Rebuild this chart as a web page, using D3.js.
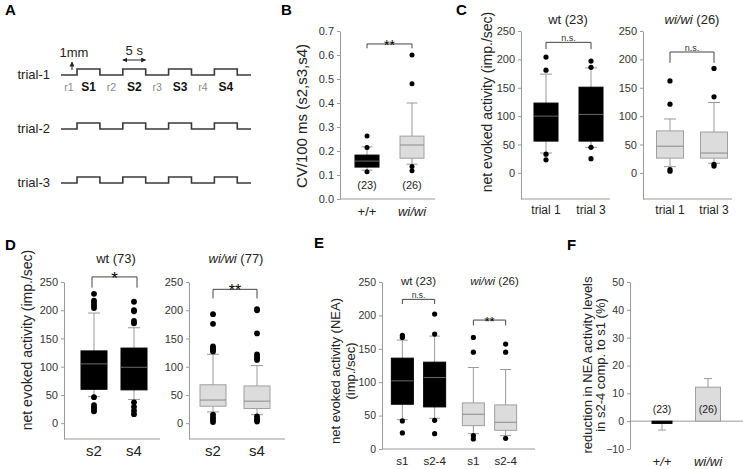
<!doctype html>
<html lang="en">
<head>
<meta charset="utf-8">
<title>net evoked activity - wt vs wi/wi</title>
<style>
html, body {
	margin: 0;
	padding: 0;
	background: #fff;
	overflow: hidden;
}
svg {
	display: block;
	font-family: 'Liberation Sans', Arial, Helvetica, sans-serif;
}
</style>
</head>
<body>
<div id="container"></div>
<script src="https://cdnjs.cloudflare.com/ajax/libs/d3/7.8.5/d3.min.js"></script>
<script>
/* DATA */

// A: stimulation protocol (seconds)
var trials = ['trial-1', 'trial-2', 'trial-3'];
var stimOnsets = [3.5, 13.5, 23.5, 33.5];
var stimDuration = 5;
var protocolLength = 41.5;
var stimLabels = ['S1', 'S2', 'S3', 'S4'];
var restLabels = ['r1', 'r2', 'r3', 'r4'];

// B: CV/100 ms, boxes are [low whisker, q1, median, q3, high whisker]
var cvGroups = ['+/+', 'wi/wi'];
var cvCounts = ['(23)', '(26)'];
var cvBoxes = [[0.12, 0.133, 0.158, 0.183, 0.217], [0.145, 0.17, 0.225, 0.262, 0.40]];
var cvOutliers = [[0.262, 0.215, 0.114], [0.60, 0.48, 0.135, 0.118]];

// C: trial 1 vs trial 3
var trialCats = ['trial 1', 'trial 3'];
var wtTrialBoxes = [[35, 56, 100, 123, 174], [45, 56, 103, 151, 185]];
var wtTrialOutliers = [[204, 181, 33, 23], [197, 186, 45, 25]];
var wiTrialBoxes = [[11, 26, 47, 74, 95], [17, 26, 35, 72, 124]];
var wiTrialOutliers = [[162, 121, 6, 3], [184, 134, 15, 12]];

// D: s2 vs s4
var stimCats = ['s2', 's4'];
var wtStimBoxes = [[47, 60, 105, 128, 195], [42, 59, 99, 133, 169]];
var wtStimOutliers = [[229, 217, 213, 208, 204, 46, 32, 28, 25, 21], [215, 200, 198, 181, 177, 37, 29, 22, 16]];
var wiStimBoxes = [[20, 30, 41, 68, 122], [15, 26, 39, 66, 102]];
var wiStimOutliers = [[193, 176, 136, 133, 130, 127, 15, 10, 6, 2], [202, 200, 159, 122, 118, 115, 112, 12, 8, 5, 3]];

// E: NEA s1 vs s2-4
var neaGroups = ['wt', 'wi/wi'];
var neaCounts = ['(23)', '(26)'];
var neaCats = ['s1', 's2-4'];
var wtNeaBoxes = [[44, 67, 102, 136, 163], [46, 63, 107, 130, 169]];
var wtNeaOutliers = [[170, 167, 42, 24], [202, 172, 43, 23]];
var wiNeaBoxes = [[23, 35, 52, 69, 122], [20, 28, 40, 66, 119]];
var wiNeaOutliers = [[167, 145, 20, 15], [157, 145, 16]];

// F: reduction in NEA (%)
var redGroups = ['+/+', 'wi/wi'];
var redCounts = ['(23)', '(26)'];
var redMeans = [-0.8, 12.2];
var redErrors = [2.4, 3.1];


/* SETUP */

var W = 743, H = 469;
var FONT = "'Liberation Sans', Arial, Helvetica, sans-serif";
var AXIS = '#9a9a9a';
var INK = '#222';

var svg = d3.select('#container').append('svg')
	.attr('width', W)
	.attr('height', H);

var txt = function (x, y, s, size, anchor) {
	return svg.append('text')
		.attr('x', x).attr('y', y)
		.attr('font-size', size)
		.attr('text-anchor', anchor || 'middle')
		.attr('fill', INK)
		.text(s);
};

// text where "wi/wi" is italic
var genoText = function (x, y, s, size, anchor) {
	var t = txt(x, y, '', size, anchor);
	s.split(/(wi\/wi)/).forEach(function (part) {
		if (!part) return;
		t.append('tspan')
			.attr('font-style', part === 'wi/wi' ? 'italic' : null)
			.text(part);
	});
	return t;
};

var panelLetter = function (s, x, y) {
	txt(x, y, s, 15, 'start').attr('font-weight', 'bold').attr('fill', '#000');
};

var yTitle = function (lines, cx, cy, size, gap) {
	var g = svg.append('g').attr('transform', 'translate(' + cx + ',' + cy + ') rotate(-90)');
	lines.forEach(function (l, i) {
		g.append('text')
			.attr('x', 0)
			.attr('y', (i - (lines.length - 1) / 2) * gap + size * 0.35)
			.attr('text-anchor', 'middle')
			.attr('font-size', size)
			.attr('fill', INK)
			.text(l);
	});
};

var leftAxis = function (y, x0, ticks, fmt) {
	var g = svg.append('g')
		.attr('transform', 'translate(' + x0 + ',0)')
		.call(d3.axisLeft(y).tickValues(ticks).tickSize(3).tickSizeOuter(0).tickPadding(3)
			.tickFormat(fmt || d3.format('d')));
	g.attr('font-family', FONT).attr('font-size', 11);
	g.selectAll('path, line').attr('stroke', AXIS);
	g.selectAll('text').attr('fill', '#333');
	return g;
};

var baseLine = function (x0, x1, y0) {
	svg.append('line')
		.attr('x1', x0).attr('x2', x1)
		.attr('y1', y0).attr('y2', y0)
		.attr('stroke', AXIS);
};

// o.dark: true/false for all boxes, or one flag per category
var boxplot = function (x, y, cats, boxes, outliers, o) {
	var isDark = function (i) { return Array.isArray(o.dark) ? o.dark[i] : o.dark; };
	var item = svg.append('g').selectAll('g')
		.data(cats).enter()
		.append('g')
		.attr('transform', function (d) { return 'translate(' + x(d) + ',0)'; });

	item.append('line')
		.attr('x1', 0).attr('x2', 0)
		.attr('y1', function (d, i) { return y(boxes[i][0]); })
		.attr('y2', function (d, i) { return y(boxes[i][4]); })
		.attr('stroke', '#999');
	[0, 4].forEach(function (k) {
		item.append('line')
			.attr('x1', -o.cap / 2).attr('x2', o.cap / 2)
			.attr('y1', function (d, i) { return y(boxes[i][k]); })
			.attr('y2', function (d, i) { return y(boxes[i][k]); })
			.attr('stroke', '#999');
	});
	item.append('rect')
		.attr('x', -o.width / 2)
		.attr('width', o.width)
		.attr('y', function (d, i) { return y(boxes[i][3]); })
		.attr('height', function (d, i) { return y(boxes[i][1]) - y(boxes[i][3]); })
		.attr('fill', function (d, i) { return isDark(i) ? '#000' : '#dcdcdc'; })
		.attr('stroke', function (d, i) { return isDark(i) ? '#000' : '#a0a0a0'; });
	item.append('line')
		.attr('x1', -o.width / 2).attr('x2', o.width / 2)
		.attr('y1', function (d, i) { return y(boxes[i][2]); })
		.attr('y2', function (d, i) { return y(boxes[i][2]); })
		.attr('stroke', function (d, i) { return isDark(i) ? '#6a6a6a' : '#8a8a8a'; });
	item.selectAll('circle')
		.data(function (d, i) { return outliers[i]; })
		.enter().append('circle')
		.attr('cx', 0)
		.attr('cy', function (v) { return y(v); })
		.attr('r', o.r)
		.attr('fill', '#000');
};

var bracket = function (xa, xb, yTop, yLow, label, size, stars) {
	svg.append('path')
		.attr('d', 'M' + xa + ',' + yLow + 'V' + yTop + 'H' + xb + 'V' + yLow)
		.attr('fill', 'none')
		.attr('stroke', '#444');
	txt((xa + xb) / 2, stars ? yTop + size * 0.42 : yTop - 1.5, label, size)
		.attr('fill', stars ? '#000' : '#333');
};

var catLabels = function (x, cats, y0, size, geno) {
	cats.forEach(function (c) {
		(geno ? genoText : txt)(x(c), y0, c, size);
	});
};


/* A: PROTOCOL */

panelLetter('A', 5, 15);

var tx = d3.scaleLinear().domain([0, protocolLength]).range([61, 251]);
var trialY = d3.scalePoint().domain(trials).range([75, 183]);
var amp = d3.scaleLinear().domain([0, 1]).range([0, -6]);

var wave = [[0, 0]];
stimOnsets.forEach(function (t) {
	wave.push([t, 0], [t, 1], [t + stimDuration, 1], [t + stimDuration, 0]);
});
wave.push([protocolLength, 0]);

trials.forEach(function (tr) {
	var y0 = trialY(tr);
	svg.append('path')
		.attr('d', d3.line()
			.x(function (d) { return tx(d[0]); })
			.y(function (d) { return y0 + amp(d[1]); })(wave))
		.attr('fill', 'none')
		.attr('stroke', '#3a3a3a')
		.attr('stroke-width', 1.6);
	txt(50, y0 + 4, tr, 13, 'end');
});

var y1 = trialY(trials[0]);
stimOnsets.forEach(function (t, i) {
	var restStart = i ? stimOnsets[i - 1] + stimDuration : 0;
	txt(tx(t + stimDuration / 2), y1 + 16, stimLabels[i], 12).attr('font-weight', 'bold').attr('fill', '#111');
	txt(tx((restStart + t) / 2), y1 + 16, restLabels[i], 10.5).attr('fill', '#888');
});

svg.append('defs').append('marker')
	.attr('id', 'head')
	.attr('viewBox', '0 0 10 10')
	.attr('refX', 9).attr('refY', 5)
	.attr('markerWidth', 5).attr('markerHeight', 5)
	.attr('orient', 'auto-start-reverse')
	.append('path').attr('d', 'M0,0L10,5L0,10z').attr('fill', '#222');

// 1 mm amplitude marker
svg.append('line')
	.attr('x1', tx(2.4)).attr('x2', tx(2.4))
	.attr('y1', y1 - 5).attr('y2', y1 - 13)
	.attr('stroke', '#222').attr('marker-end', 'url(#head)');
txt(tx(2.4) + 2, y1 - 18, '1mm', 13);

// 5 s duration marker
svg.append('line')
	.attr('x1', tx(stimOnsets[1])).attr('x2', tx(stimOnsets[1] + stimDuration))
	.attr('y1', y1 - 15).attr('y2', y1 - 15)
	.attr('stroke', '#222')
	.attr('marker-start', 'url(#head)')
	.attr('marker-end', 'url(#head)');
txt(tx(stimOnsets[1] + stimDuration / 2), y1 - 20, '5 s', 13);


/* B: CV */

panelLetter('B', 281, 15);

var bx = d3.scalePoint().domain(cvGroups).range([367, 412]);
var by = d3.scaleLinear().domain([0, 0.7]).range([199, 31]);
leftAxis(by, 340, d3.range(0, 0.71, 0.1), d3.format('.1f'));
baseLine(340, 435, by(0));
boxplot(bx, by, cvGroups, cvBoxes, cvOutliers, { dark: [true, false], width: 24, cap: 11, r: 2.5 });
cvGroups.forEach(function (g, i) {
	txt(bx(g), 189, cvCounts[i], 11);
});
catLabels(bx, cvGroups, 216, 13, true);
bracket(bx(cvGroups[0]), bx(cvGroups[1]), by(0.646), by(0.628), '**', 14, true);
yTitle(['CV/100 ms (s2,s3,s4)'], 302, 116, 15, 0);


/* C: TRIALS */

panelLetter('C', 456, 15);

var cy = d3.scaleLinear().domain([-46, 250]).range([199, 31]);
var cTicks = [0, 50, 100, 150, 200, 250];

var cxL = d3.scalePoint().domain(trialCats).range([546, 591]);
leftAxis(cy, 521, cTicks);
baseLine(521, 610, cy(-46));
boxplot(cxL, cy, trialCats, wtTrialBoxes, wtTrialOutliers, { dark: true, width: 24, cap: 12, r: 2.6 });
catLabels(cxL, trialCats, 214, 12);
bracket(cxL(trialCats[0]), cxL(trialCats[1]), cy(230), cy(218), 'n.s.', 9, false);
genoText(568, 24, 'wt (23)', 13);

var cxR = d3.scalePoint().domain(trialCats).range([670, 714]);
leftAxis(cy, 643, cTicks);
baseLine(643, 732, cy(-46));
boxplot(cxR, cy, trialCats, wiTrialBoxes, wiTrialOutliers, { dark: false, width: 27, cap: 12, r: 2.6 });
catLabels(cxR, trialCats, 214, 12);
bracket(cxR(trialCats[0]), cxR(trialCats[1]), cy(213), cy(194), 'n.s.', 9, false);
genoText(692, 24, 'wi/wi (26)', 13);

yTitle(['net evoked activity (imp./sec)'], 487, 102, 14, 0);


/* D: s2 vs s4 */

panelLetter('D', 5, 250);

var dy = d3.scaleLinear().domain([-28, 250]).range([439, 282]);
var dTicks = [0, 50, 100, 150, 200, 250];

var dxL = d3.scalePoint().domain(stimCats).range([94, 134]);
leftAxis(dy, 64, dTicks);
baseLine(64, 160, dy(-28));
boxplot(dxL, dy, stimCats, wtStimBoxes, wtStimOutliers, { dark: true, width: 26, cap: 12, r: 2.9 });
catLabels(dxL, stimCats, 456, 15);
bracket(dxL(stimCats[0]) - 2, dxL(stimCats[1]) + 3, dy(259), dy(240), '*', 17, true);
genoText(116, 263, 'wt (73)', 13);

var dxR = d3.scalePoint().domain(stimCats).range([213, 257]);
leftAxis(dy, 189, dTicks);
baseLine(189, 285, dy(-28));
boxplot(dxR, dy, stimCats, wiStimBoxes, wiStimOutliers, { dark: false, width: 26, cap: 12, r: 2.9 });
catLabels(dxR, stimCats, 456, 15);
bracket(dxR(stimCats[0]), dxR(stimCats[1]), dy(237), dy(221), '**', 16, true);
genoText(236, 263, 'wi/wi (77)', 13);

yTitle(['net evoked activity (imp./sec)'], 27, 340, 14, 0);


/* E: NEA */

panelLetter('E', 314, 248);

var ey = d3.scaleLinear().domain([0, 250]).range([449, 282]);
var eGroup = d3.scaleBand().domain(neaGroups).range([383, 525]);
var eInner = d3.scaleBand().domain(neaCats).range([0, eGroup.bandwidth()]).paddingOuter(0.1);
var eAt = function (g) {
	return function (c) { return eGroup(g) + eInner(c) + eInner.bandwidth() / 2; };
};
leftAxis(ey, 382, [0, 50, 100, 150, 200, 250]).attr('font-size', 10.5);
baseLine(382, 535, ey(0));
boxplot(eAt('wt'), ey, neaCats, wtNeaBoxes, wtNeaOutliers, { dark: true, width: 22, cap: 11, r: 2.6 });
boxplot(eAt('wi/wi'), ey, neaCats, wiNeaBoxes, wiNeaOutliers, { dark: false, width: 22, cap: 11, r: 2.6 });
neaGroups.forEach(function (g, i) {
	catLabels(eAt(g), neaCats, 465, 11.5);
	genoText(eGroup(g) + eGroup.bandwidth() / 2 + (i ? 5 : 0), 285, g + ' ' + neaCounts[i], 11.5);
});
bracket(eAt('wt')('s1'), eAt('wt')('s2-4'), ey(224), ey(217), 'n.s.', 8.5, false);
bracket(eAt('wi/wi')('s1'), eAt('wi/wi')('s2-4'), ey(193), ey(185), '**', 13, true);
yTitle(['net evoked activity (NEA)', '(imp./sec)'], 343, 371, 13, 15);


/* F: REDUCTION */

panelLetter('F', 567, 250);

var fy = d3.scaleLinear().domain([-10, 50]).range([449, 282]);
var fx = d3.scalePoint().domain(redGroups).range([662, 708]);
var barW = [20, 25];
leftAxis(fy, 630, d3.range(-10, 51, 10)).attr('font-size', 10.5);
baseLine(630, 743, fy(0));

redGroups.forEach(function (g, i) {
	var m = redMeans[i], e = redErrors[i];
	var tip = m + (m < 0 ? -e : e);
	svg.append('line')
		.attr('x1', fx(g)).attr('x2', fx(g))
		.attr('y1', fy(m)).attr('y2', fy(tip))
		.attr('stroke', '#999');
	svg.append('line')
		.attr('x1', fx(g) - 4).attr('x2', fx(g) + 4)
		.attr('y1', fy(tip)).attr('y2', fy(tip))
		.attr('stroke', '#999');
	svg.append('rect')
		.attr('x', fx(g) - barW[i] / 2)
		.attr('width', barW[i])
		.attr('y', fy(Math.max(0, m)))
		.attr('height', Math.abs(fy(m) - fy(0)))
		.attr('fill', i === 0 ? '#000' : '#dcdcdc')
		.attr('stroke', i === 0 ? '#000' : '#a0a0a0');
	txt(fx(g), 413, redCounts[i], 10.5);
	genoText(fx(g), 466, g, 13).attr('font-style', 'italic');
});

yTitle(['reduction in NEA activity levels', 'in s2-4 comp. to s1  (%)'], 594, 365, 13, 13);
</script>
</body>
</html>
